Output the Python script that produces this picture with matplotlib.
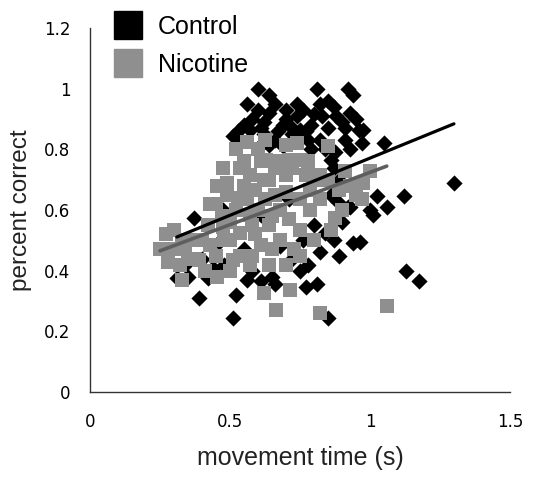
import numpy as np
import matplotlib
matplotlib.use("Agg")
import matplotlib.pyplot as plt
from matplotlib.lines import Line2D

# movement time (s), percent correct
control_x = [0.60, 0.64, 0.56, 0.81, 0.92, 0.94, 0.74, 0.85, 0.60, 0.64,
             0.74, 0.82, 0.88, 0.93, 0.51, 0.55, 0.61, 0.69, 0.79, 0.85,
             0.91, 0.96, 0.62, 0.67, 0.78, 0.60, 0.69, 0.54, 0.72, 0.82,
             0.875, 0.86, 0.87, 0.975, 1.05, 0.80, 0.70, 0.75, 0.64, 0.91,
             0.57, 1.30, 1.12, 1.025, 1.06, 1.01, 0.93, 0.885, 0.92, 0.965,
             0.94, 1.13, 1.175, 0.84, 0.76, 0.78, 0.68, 0.77, 0.81, 0.61,
             0.66, 0.85, 0.37, 0.39, 0.52, 0.51, 0.46, 0.44, 0.42, 0.31,
             0.475, 0.56, 0.86, 0.71, 0.89, 0.80, 0.75, 0.89, 0.55, 0.61,
             0.34, 0.66, 0.70, 0.76, 0.83, 0.87, 0.90, 0.58, 0.53, 0.62,
             0.72, 0.77, 0.95, 0.97, 0.84, 0.79, 0.66, 0.93, 0.82, 0.87,
             0.72, 0.65, 0.58, 0.48, 0.40, 0.35, 0.90, 1.00]
control_y = [1.00, 0.98, 0.95, 1.00, 1.00, 0.98, 0.95, 0.96, 0.93, 0.92,
             0.91, 0.95, 0.91, 0.92, 0.845, 0.88, 0.87, 0.88, 0.88, 0.87,
             0.87, 0.865, 0.85, 0.86, 0.83, 0.805, 0.81, 0.83, 0.85, 0.83,
             0.79, 0.765, 0.74, 0.865, 0.82, 0.915, 0.93, 0.865, 0.815, 0.83,
             0.865, 0.69, 0.645, 0.645, 0.61, 0.585, 0.61, 0.625, 0.61, 0.495,
             0.49, 0.40, 0.365, 0.525, 0.50, 0.42, 0.48, 0.345, 0.355, 0.365,
             0.355, 0.245, 0.575, 0.31, 0.32, 0.245, 0.495, 0.41, 0.375, 0.375,
             0.60, 0.37, 0.65, 0.635, 0.70, 0.55, 0.40, 0.45, 0.47, 0.585,
             0.42, 0.95, 0.90, 0.93, 0.91, 0.94, 0.89, 0.90, 0.86, 0.89,
             0.87, 0.86, 0.90, 0.82, 0.80, 0.80, 0.83, 0.80, 0.46, 0.50,
             0.44, 0.38, 0.40, 0.42, 0.44, 0.38, 0.56, 0.60]

nicotine_x = [0.25, 0.30, 0.36, 0.32, 0.33, 0.37, 0.42, 0.475, 0.535, 0.455,
              0.51, 0.475, 0.56, 0.535, 0.49, 0.49, 0.56, 0.63, 0.74, 0.75,
              0.85, 0.61, 0.67, 0.57, 0.64, 0.70, 0.57, 0.625, 0.68, 0.59,
              0.64, 0.71, 0.75, 0.785, 0.82, 0.89, 0.93, 0.975, 0.97, 0.875,
              0.785, 0.73, 0.535, 0.62, 0.715, 0.665, 0.82, 1.06, 0.39, 0.43,
              0.27, 0.34, 0.50, 0.57, 0.64, 0.68, 0.61, 0.75, 0.82, 0.71,
              0.52, 0.455, 0.625, 0.70, 0.91, 0.48, 0.41, 0.59, 0.66, 0.52,
              0.77, 0.86, 1.00, 0.45, 0.50, 0.55, 0.60, 0.65, 0.70, 0.62,
              0.58, 0.53, 0.47, 0.66, 0.72, 0.78, 0.60, 0.55, 0.43, 0.40,
              0.35, 0.30, 0.28, 0.33, 0.45, 0.50, 0.58, 0.65, 0.70, 0.75,
              0.80, 0.90, 0.95, 0.85, 0.80]
nicotine_y = [0.47, 0.535, 0.50, 0.42, 0.37, 0.44, 0.55, 0.545, 0.525, 0.38,
              0.435, 0.74, 0.825, 0.74, 0.69, 0.65, 0.635, 0.765, 0.82, 0.765,
              0.81, 0.76, 0.76, 0.715, 0.70, 0.715, 0.585, 0.635, 0.60, 0.52,
              0.55, 0.57, 0.635, 0.665, 0.715, 0.665, 0.68, 0.69, 0.635, 0.575,
              0.60, 0.47, 0.45, 0.325, 0.335, 0.27, 0.26, 0.285, 0.435, 0.485,
              0.52, 0.47, 0.40, 0.42, 0.42, 0.50, 0.485, 0.535, 0.635, 0.765,
              0.60, 0.68, 0.83, 0.815, 0.73, 0.50, 0.40, 0.665, 0.65, 0.80,
              0.715, 0.535, 0.73, 0.62, 0.56, 0.68, 0.60, 0.58, 0.66, 0.70,
              0.55, 0.64, 0.58, 0.74, 0.74, 0.76, 0.80, 0.76, 0.62, 0.50,
              0.44, 0.47, 0.43, 0.50, 0.45, 0.50, 0.45, 0.47, 0.42, 0.45,
              0.50, 0.60, 0.65, 0.70, 0.70]

# linear trendlines (intercept, slope)
control_fit = (0.394, 0.377)
nicotine_fit = (0.379, 0.345)

x_ticks = [0, 0.5, 1, 1.5]
x_tick_labels = ["0", "0.5", "1", "1.5"]
y_ticks = [0, 0.2, 0.4, 0.6, 0.8, 1.0, 1.2]
y_tick_labels = ["0", "0.2", "0.4", "0.6", "0.8", "1", "1.2"]

black = "#000000"
gray = "#8f8f8f"
gray_line = "#5e5e5e"

fig = plt.figure(figsize=(5.37, 4.86), dpi=100)
ax = fig.add_axes([0.1676, 0.1934, 0.782, 0.749])

ax.scatter(control_x, control_y, marker="D", s=68, color=black,
           linewidths=0, zorder=2)
ax.scatter(nicotine_x, nicotine_y, marker="s", s=100, color=gray,
           linewidths=0, zorder=3)

for xs, fit, col, lw in [(control_x, control_fit, black, 2.3),
                         (nicotine_x, nicotine_fit, gray_line, 2.6)]:
    xx = np.array([min(xs), max(xs)])
    ax.plot(xx, fit[0] + fit[1] * xx, color=col, linewidth=lw,
            solid_capstyle="round", zorder=4)

ax.set_xlim(0, 1.5)
ax.set_ylim(0, 1.2)
ax.set_xticks(x_ticks)
ax.set_xticklabels(x_tick_labels)
ax.set_yticks(y_ticks)
ax.set_yticklabels(y_tick_labels)
ax.tick_params(length=0, labelsize=12, colors="#000000")
ax.tick_params(axis="x", pad=15)
ax.tick_params(axis="y", pad=14)
for lab in ax.get_xticklabels() + ax.get_yticklabels():
    lab.set_family("DejaVu Sans")

for side in ["top", "right"]:
    ax.spines[side].set_visible(False)
for side in ["left", "bottom"]:
    ax.spines[side].set_color("#333333")
    ax.spines[side].set_linewidth(1.0)

ax.set_xlabel("movement time (s)", fontsize=18, family="Liberation Sans",
              labelpad=11, color="#222222")
ax.set_ylabel("percent correct", fontsize=17.5, family="Liberation Sans",
              labelpad=9, color="#222222")

handles = [Line2D([], [], marker="s", linestyle="none", markersize=19.5,
                  color=black),
           Line2D([], [], marker="s", linestyle="none", markersize=19.5,
                  color=gray)]
fig.legend(handles, ["Control", "Nicotine"], loc="upper left",
           bbox_to_anchor=(0.178, 1.005), frameon=False,
           prop={"family": "Liberation Sans", "size": 18},
           handlelength=1.2, handletextpad=0.6, labelspacing=0.55,
           borderpad=0.2)

fig.savefig("out.png", dpi=100)
